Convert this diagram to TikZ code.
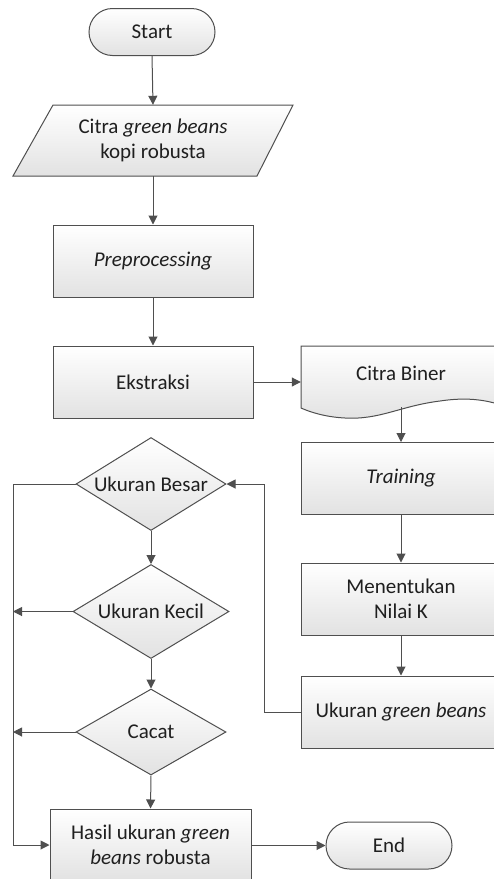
\documentclass[tikz,border=0pt]{standalone}
\usepackage{fontspec}
\setmainfont{Carlito}
\usetikzlibrary{shapes.geometric,arrows.meta}
\definecolor{lc}{HTML}{4F4F4F}
\definecolor{fc}{HTML}{E2E2E2}
\tikzset{
  base/.style={draw=lc, line width=1pt, top color=white, bottom color=fc, inner sep=0pt, align=center,
    font=\fontsize{21}{24.5}\selectfont, text=black!88},
  procbox/.style={base, rectangle, minimum width=200pt, minimum height=72pt},
  termbox/.style={base, rectangle, rounded corners=23.5pt, minimum width=126pt, minimum height=47pt},
  decbox/.style={base, diamond, minimum width=150pt, minimum height=93pt},
  plain/.style={inner sep=0pt, align=center, font=\fontsize{21}{24.5}\selectfont, text=black!88},
  conn/.style={draw=lc, line width=1pt, -{Triangle[length=9pt,width=9pt]}},
  line/.style={draw=lc, line width=1pt}
}
\begin{document}
\begin{tikzpicture}[x=1pt,y=-1pt]
\useasboundingbox (0,0) rectangle (494,879);
% Start
\node[termbox] (start) at (152,32) {Start};
% parallelogram input
\path[base] (53,105) -- (293,105) -- (257,176) -- (13,176) -- cycle;
\node[plain, minimum width=200pt, minimum height=71pt] (input) at (153,140.5) {Citra \textit{green beans}\\kopi robusta};
% processes left
\node[procbox] (pre) at (153,261) {\textit{Preprocessing}};
\node[procbox] (ekst) at (153,382) {Ekstraksi};
% document shape
\path[base] (301,346) -- (501,346) -- (501,405)
  .. controls (480,398) and (460,398) .. (440,401)
  .. controls (400,406) and (380,420) .. (345,418)
  .. controls (325,417) and (310,412) .. (301,408) -- cycle;
\node[plain, minimum width=200pt, minimum height=54pt] (biner) at (401,373) {Citra Biner};
\coordinate (bwave) at (401,407);
% right column
\node[procbox] (train) at (401,478.5) {\textit{Training}};
\node[procbox] (nilai) at (401,599) {Menentukan\\Nilai K};
\node[procbox] (ukur) at (401,712) {Ukuran \textit{green beans}};
% decisions
\node[decbox] (besar) at (151,484) {\makebox[0pt]{Ukuran Besar}};
\node[decbox, minimum width=156pt, minimum height=94pt] (kecil) at (151,611.5) {\makebox[0pt]{Ukuran Kecil}};
\node[decbox, minimum width=150pt, minimum height=86pt] (cacat) at (151,732) {\makebox[0pt]{Cacat}};
% result
\node[procbox, minimum width=201pt] (hasil) at (150.5,845) {Hasil ukuran \textit{green}\\\textit{beans} robusta};
\node[termbox] (end) at (389,845.5) {End};
% coordinates for loops
\coordinate (lx1) at (13,484);
\coordinate (lx2) at (13,611.5);
\coordinate (lx3) at (13,732);
\coordinate (lx4) at (13,845);
\coordinate (rx1) at (264,712);
\coordinate (rx2) at (264,484);
% connectors
\draw[conn] (start.south) -- (input.north);
\draw[conn] (input.south) -- (pre.north);
\draw[conn] (pre.south) -- (ekst.north);
\draw[conn] (ekst.east) -- (ekst.east -| biner.west);
\draw[conn] (bwave) -- (train.north);
\draw[conn] (train.south) -- (nilai.north);
\draw[conn] (nilai.south) -- (ukur.north);
\draw[line] (ukur.west) -- (rx1) -- (rx2);
\draw[conn] (rx2) -- (besar.east);
\draw[conn] (besar.south) -- (kecil.north);
\draw[conn] (kecil.south) -- (cacat.north);
\draw[conn] (cacat.south) -- (hasil.north);
\draw[line] (besar.west) -- (lx1) -- (lx4);
\draw[conn] (lx4) -- (hasil.west);
\draw[conn] (kecil.west) -- (lx2);
\draw[conn] (cacat.west) -- (lx3);
\draw[conn] (hasil.east |- end.west) -- (end.west);
\end{tikzpicture}
\end{document}
